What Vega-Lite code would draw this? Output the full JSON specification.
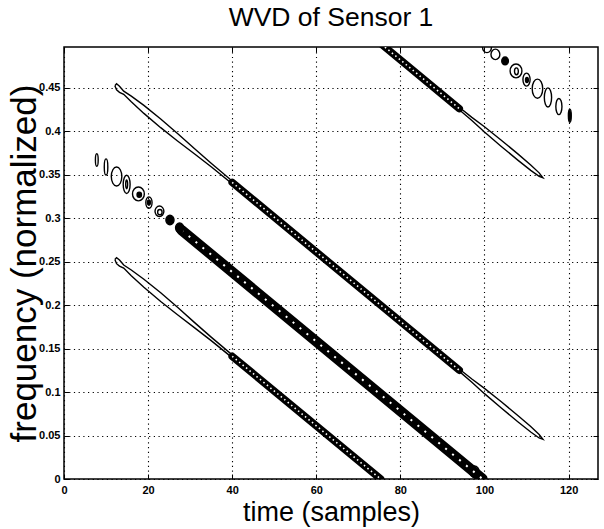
{
  "$schema": "https://vega.github.io/schema/vega-lite/v6.json",
  "width": 534,
  "height": 432,
  "autosize": {"type": "none"},
  "padding": {"left": 64, "top": 47, "right": 6, "bottom": 50},
  "background": "white",
  "title": {"text": "WVD of Sensor 1", "font": "Liberation Sans", "fontSize": 26.5, "fontWeight": "normal", "color": "black", "anchor": "middle", "frame": "group", "baseline": "alphabetic", "offset": 15, "dy": 23},
  "config": {"view": {"stroke": "black", "strokeWidth": 1.5}},
  "datasets": {
    "contours": [
      {"seg": "A1", "kind": "outline", "i": 0, "t": 12.1, "f": 0.4525},
      {"seg": "A1", "kind": "outline", "i": 1, "t": 12.5, "f": 0.4547},
      {"seg": "A1", "kind": "outline", "i": 2, "t": 13.2, "f": 0.4519},
      {"seg": "A1", "kind": "outline", "i": 3, "t": 14.2, "f": 0.4462},
      {"seg": "A1", "kind": "outline", "i": 4, "t": 16, "f": 0.4405},
      {"seg": "A1", "kind": "outline", "i": 5, "t": 19, "f": 0.4298},
      {"seg": "A1", "kind": "outline", "i": 6, "t": 23, "f": 0.4142},
      {"seg": "A1", "kind": "outline", "i": 7, "t": 27, "f": 0.3975},
      {"seg": "A1", "kind": "outline", "i": 8, "t": 31, "f": 0.3802},
      {"seg": "A1", "kind": "outline", "i": 9, "t": 35, "f": 0.3632},
      {"seg": "A1", "kind": "outline", "i": 10, "t": 40, "f": 0.3428},
      {"seg": "A1", "kind": "outline", "i": 11, "t": 40, "f": 0.3396},
      {"seg": "A1", "kind": "outline", "i": 12, "t": 35, "f": 0.3592},
      {"seg": "A1", "kind": "outline", "i": 13, "t": 31, "f": 0.3742},
      {"seg": "A1", "kind": "outline", "i": 14, "t": 27, "f": 0.3889},
      {"seg": "A1", "kind": "outline", "i": 15, "t": 23, "f": 0.4042},
      {"seg": "A1", "kind": "outline", "i": 16, "t": 19, "f": 0.4206},
      {"seg": "A1", "kind": "outline", "i": 17, "t": 16, "f": 0.4339},
      {"seg": "A1", "kind": "outline", "i": 18, "t": 14.2, "f": 0.4426},
      {"seg": "A1", "kind": "outline", "i": 19, "t": 13.2, "f": 0.4449},
      {"seg": "A1", "kind": "outline", "i": 20, "t": 12.5, "f": 0.4477},
      {"seg": "A1", "kind": "outline", "i": 21, "t": 12.1, "f": 0.4525},
      {"seg": "C1", "kind": "outline", "i": 0, "t": 12.1, "f": 0.2525},
      {"seg": "C1", "kind": "outline", "i": 1, "t": 12.5, "f": 0.2547},
      {"seg": "C1", "kind": "outline", "i": 2, "t": 13.2, "f": 0.2519},
      {"seg": "C1", "kind": "outline", "i": 3, "t": 14.2, "f": 0.2462},
      {"seg": "C1", "kind": "outline", "i": 4, "t": 16, "f": 0.2405},
      {"seg": "C1", "kind": "outline", "i": 5, "t": 19, "f": 0.2298},
      {"seg": "C1", "kind": "outline", "i": 6, "t": 23, "f": 0.2142},
      {"seg": "C1", "kind": "outline", "i": 7, "t": 27, "f": 0.1975},
      {"seg": "C1", "kind": "outline", "i": 8, "t": 31, "f": 0.1802},
      {"seg": "C1", "kind": "outline", "i": 9, "t": 35, "f": 0.1632},
      {"seg": "C1", "kind": "outline", "i": 10, "t": 40, "f": 0.1428},
      {"seg": "C1", "kind": "outline", "i": 11, "t": 40, "f": 0.1396},
      {"seg": "C1", "kind": "outline", "i": 12, "t": 35, "f": 0.1592},
      {"seg": "C1", "kind": "outline", "i": 13, "t": 31, "f": 0.1742},
      {"seg": "C1", "kind": "outline", "i": 14, "t": 27, "f": 0.1889},
      {"seg": "C1", "kind": "outline", "i": 15, "t": 23, "f": 0.2042},
      {"seg": "C1", "kind": "outline", "i": 16, "t": 19, "f": 0.2206},
      {"seg": "C1", "kind": "outline", "i": 17, "t": 16, "f": 0.2339},
      {"seg": "C1", "kind": "outline", "i": 18, "t": 14.2, "f": 0.2426},
      {"seg": "C1", "kind": "outline", "i": 19, "t": 13.2, "f": 0.2449},
      {"seg": "C1", "kind": "outline", "i": 20, "t": 12.5, "f": 0.2477},
      {"seg": "C1", "kind": "outline", "i": 21, "t": 12.1, "f": 0.2525},
      {"seg": "A3", "kind": "outline", "i": 0, "t": 94, "f": 0.1266},
      {"seg": "A3", "kind": "outline", "i": 1, "t": 97, "f": 0.115},
      {"seg": "A3", "kind": "outline", "i": 2, "t": 100, "f": 0.1042},
      {"seg": "A3", "kind": "outline", "i": 3, "t": 104, "f": 0.0888},
      {"seg": "A3", "kind": "outline", "i": 4, "t": 108, "f": 0.0728},
      {"seg": "A3", "kind": "outline", "i": 5, "t": 111, "f": 0.0603},
      {"seg": "A3", "kind": "outline", "i": 6, "t": 113, "f": 0.0512},
      {"seg": "A3", "kind": "outline", "i": 7, "t": 113.9, "f": 0.0456},
      {"seg": "A3", "kind": "outline", "i": 8, "t": 113, "f": 0.0472},
      {"seg": "A3", "kind": "outline", "i": 9, "t": 111, "f": 0.0541},
      {"seg": "A3", "kind": "outline", "i": 10, "t": 108, "f": 0.0656},
      {"seg": "A3", "kind": "outline", "i": 11, "t": 104, "f": 0.0816},
      {"seg": "A3", "kind": "outline", "i": 12, "t": 100, "f": 0.0982},
      {"seg": "A3", "kind": "outline", "i": 13, "t": 97, "f": 0.1114},
      {"seg": "A3", "kind": "outline", "i": 14, "t": 94, "f": 0.1238},
      {"seg": "A3", "kind": "outline", "i": 15, "t": 94, "f": 0.1266},
      {"seg": "B3", "kind": "outline", "i": 0, "t": 94, "f": 0.4276},
      {"seg": "B3", "kind": "outline", "i": 1, "t": 97, "f": 0.416},
      {"seg": "B3", "kind": "outline", "i": 2, "t": 100, "f": 0.4052},
      {"seg": "B3", "kind": "outline", "i": 3, "t": 104, "f": 0.3898},
      {"seg": "B3", "kind": "outline", "i": 4, "t": 108, "f": 0.3738},
      {"seg": "B3", "kind": "outline", "i": 5, "t": 111, "f": 0.3613},
      {"seg": "B3", "kind": "outline", "i": 6, "t": 113, "f": 0.3522},
      {"seg": "B3", "kind": "outline", "i": 7, "t": 113.9, "f": 0.3466},
      {"seg": "B3", "kind": "outline", "i": 8, "t": 113, "f": 0.3482},
      {"seg": "B3", "kind": "outline", "i": 9, "t": 111, "f": 0.3551},
      {"seg": "B3", "kind": "outline", "i": 10, "t": 108, "f": 0.3666},
      {"seg": "B3", "kind": "outline", "i": 11, "t": 104, "f": 0.3826},
      {"seg": "B3", "kind": "outline", "i": 12, "t": 100, "f": 0.3992},
      {"seg": "B3", "kind": "outline", "i": 13, "t": 97, "f": 0.4124},
      {"seg": "B3", "kind": "outline", "i": 14, "t": 94, "f": 0.4248},
      {"seg": "B3", "kind": "outline", "i": 15, "t": 94, "f": 0.4276},
      {"seg": "A2", "kind": "ridge", "i": 0, "t": 40, "f": 0.3412},
      {"seg": "A2", "kind": "ridge", "i": 1, "t": 94, "f": 0.1252},
      {"seg": "C2", "kind": "ridge", "i": 0, "t": 40, "f": 0.1412},
      {"seg": "C2", "kind": "ridge", "i": 1, "t": 75.3, "f": 0.0},
      {"seg": "B2", "kind": "ridge", "i": 0, "t": 75.5, "f": 0.5002},
      {"seg": "B2", "kind": "ridge", "i": 1, "t": 94, "f": 0.4262},
      {"seg": "D2", "kind": "band", "i": 0, "t": 28, "f": 0.2862},
      {"seg": "D2", "kind": "band", "i": 1, "t": 99.5, "f": 0.0002}
    ],
    "beads": [
      {"t": 7.8, "f": 0.367, "span": 0.0145, "form": "narrow", "solid": "n"},
      {"t": 10.0, "f": 0.359, "span": 0.0185, "form": "narrow", "solid": "n"},
      {"t": 12.5, "f": 0.348, "span": 0.022, "form": "oval", "solid": "n"},
      {"t": 14.9, "f": 0.339, "span": 0.021, "form": "slim", "solid": "n"},
      {"t": 14.9, "f": 0.339, "span": 0.01, "form": "narrow", "solid": "n"},
      {"t": 17.7, "f": 0.328, "span": 0.016, "form": "round", "solid": "n"},
      {"t": 17.9, "f": 0.327, "span": 0.006, "form": "round", "solid": "y"},
      {"t": 20.2, "f": 0.318, "span": 0.013, "form": "oval", "solid": "n"},
      {"t": 20.2, "f": 0.318, "span": 0.006, "form": "oval", "solid": "y"},
      {"t": 22.7, "f": 0.308, "span": 0.012, "form": "round", "solid": "n"},
      {"t": 22.8, "f": 0.307, "span": 0.006, "form": "round", "solid": "n"},
      {"t": 25.2, "f": 0.298, "span": 0.011, "form": "round", "solid": "y"},
      {"t": 27.5, "f": 0.289, "span": 0.011, "form": "round", "solid": "y"},
      {"t": 97.6, "f": 0.0085, "span": 0.013, "form": "round", "solid": "n"},
      {"t": 100.6, "f": 0.4965, "span": 0.012, "form": "round", "solid": "n"},
      {"t": 102.6, "f": 0.4885, "span": 0.012, "form": "round", "solid": "n"},
      {"t": 104.9, "f": 0.481, "span": 0.009, "form": "round", "solid": "y"},
      {"t": 107.5, "f": 0.4695, "span": 0.016, "form": "round", "solid": "n"},
      {"t": 107.6, "f": 0.469, "span": 0.008, "form": "oval", "solid": "n"},
      {"t": 110.0, "f": 0.4595, "span": 0.015, "form": "oval", "solid": "n"},
      {"t": 110.1, "f": 0.459, "span": 0.006, "form": "oval", "solid": "y"},
      {"t": 112.6, "f": 0.449, "span": 0.022, "form": "oval", "solid": "n"},
      {"t": 115.1, "f": 0.439, "span": 0.022, "form": "slim", "solid": "n"},
      {"t": 117.7, "f": 0.4285, "span": 0.0185, "form": "slim", "solid": "n"},
      {"t": 120.3, "f": 0.418, "span": 0.015, "form": "narrow", "solid": "y"}
    ]
  },
  "resolve": {"axis": {"x": "independent", "y": "independent"}},
  "layer": [
    {
      "data": {"name": "contours"},
      "transform": [{"filter": "datum.kind === 'outline'"}],
      "mark": {"type": "line", "stroke": "black", "strokeWidth": 1.4, "clip": true},
      "encoding": {
        "x": {"field": "t", "type": "quantitative", "scale": {"domain": [0, 127], "nice": false, "zero": false},
          "axis": {"orient": "bottom", "values": [0, 20, 40, 60, 80, 100, 120], "grid": true, "gridDash": [1.2, 3.5], "gridColor": "black", "gridOpacity": 1, "gridWidth": 1.1, "domain": false, "tickSize": -5, "tickColor": "black", "tickWidth": 1, "labelPadding": 10, "labelFont": "Liberation Sans", "labelFontWeight": "bold", "labelFontSize": 11, "labelColor": "black", "labelFlush": false, "labelOverlap": false, "title": "time (samples)", "titleFont": "Liberation Sans", "titleFontSize": 27, "titleFontWeight": "normal", "titleColor": "black", "titlePadding": 4}},
        "y": {"field": "f", "type": "quantitative", "scale": {"domain": [0, 0.497], "nice": false, "zero": false},
          "axis": {"orient": "left", "values": [0, 0.05, 0.1, 0.15, 0.2, 0.25, 0.3, 0.35, 0.4, 0.45], "format": "~g", "grid": true, "gridDash": [1.2, 3.5], "gridColor": "black", "gridOpacity": 1, "gridWidth": 1.1, "domain": false, "tickSize": -5, "tickColor": "black", "tickWidth": 1, "labelPadding": 9, "labelFont": "Liberation Sans", "labelFontWeight": "bold", "labelFontSize": 11, "labelColor": "black", "labelFlush": false, "labelOverlap": false, "title": "frequency (normalized)", "titleFont": "Liberation Sans", "titleFontSize": 35, "titleFontWeight": "normal", "titleColor": "black", "titlePadding": -4}},
        "detail": {"field": "seg", "type": "nominal"},
        "order": {"field": "i", "type": "quantitative"}
      }
    },
    {
      "data": {"name": "contours"},
      "transform": [{"filter": "datum.kind === 'ridge'"}],
      "mark": {"type": "line", "stroke": "black", "strokeWidth": 7.5, "strokeCap": "round", "clip": true},
      "encoding": {
        "x": {"field": "t", "type": "quantitative", "scale": {"domain": [0, 127], "nice": false, "zero": false}, "axis": null},
        "y": {"field": "f", "type": "quantitative", "scale": {"domain": [0, 0.497], "nice": false, "zero": false}, "axis": null},
        "detail": {"field": "seg", "type": "nominal"},
        "order": {"field": "i", "type": "quantitative"}
      }
    },
    {
      "data": {"name": "contours"},
      "transform": [{"filter": "datum.kind === 'ridge'"}],
      "mark": {"type": "line", "stroke": "white", "strokeWidth": 1.6, "strokeDash": [1.5, 3], "clip": true},
      "encoding": {
        "x": {"field": "t", "type": "quantitative", "scale": {"domain": [0, 127], "nice": false, "zero": false}, "axis": null},
        "y": {"field": "f", "type": "quantitative", "scale": {"domain": [0, 0.497], "nice": false, "zero": false}, "axis": null},
        "detail": {"field": "seg", "type": "nominal"},
        "order": {"field": "i", "type": "quantitative"}
      }
    },
    {
      "data": {"name": "contours"},
      "transform": [{"filter": "datum.kind === 'band'"}],
      "mark": {"type": "line", "stroke": "black", "strokeWidth": 10.5, "strokeCap": "round", "clip": true},
      "encoding": {
        "x": {"field": "t", "type": "quantitative", "scale": {"domain": [0, 127], "nice": false, "zero": false}, "axis": null},
        "y": {"field": "f", "type": "quantitative", "scale": {"domain": [0, 0.497], "nice": false, "zero": false}, "axis": null},
        "detail": {"field": "seg", "type": "nominal"},
        "order": {"field": "i", "type": "quantitative"}
      }
    },
    {
      "data": {"name": "contours"},
      "transform": [{"filter": "datum.kind === 'band'"}],
      "mark": {"type": "line", "stroke": "white", "strokeWidth": 2, "strokeDash": [2, 7], "clip": true},
      "encoding": {
        "x": {"field": "t", "type": "quantitative", "scale": {"domain": [0, 127], "nice": false, "zero": false}, "axis": null},
        "y": {"field": "f", "type": "quantitative", "scale": {"domain": [0, 0.497], "nice": false, "zero": false}, "axis": null},
        "detail": {"field": "seg", "type": "nominal"},
        "order": {"field": "i", "type": "quantitative"}
      }
    },
    {
      "data": {"name": "beads"},
      "mark": {"type": "point", "stroke": "black", "strokeWidth": 1.4, "opacity": 1, "clip": true},
      "encoding": {
        "x": {"field": "t", "type": "quantitative", "scale": {"domain": [0, 127], "nice": false, "zero": false}, "axis": null},
        "y": {"field": "f", "type": "quantitative", "scale": {"domain": [0, 0.497], "nice": false, "zero": false}, "axis": null},
        "shape": {"field": "form", "type": "nominal", "legend": null, "scale": {"domain": ["narrow", "slim", "oval", "round"], "range": ["M0,-1A0.22,1,0,1,1,0,1A0.22,1,0,1,1,0,-1Z", "M0,-1A0.38,1,0,1,1,0,1A0.38,1,0,1,1,0,-1Z", "M0,-1A0.55,1,0,1,1,0,1A0.55,1,0,1,1,0,-1Z", "M0,-1A0.85,1,0,1,1,0,1A0.85,1,0,1,1,0,-1Z"]}},
        "size": {"field": "span", "type": "quantitative", "legend": null, "scale": {"type": "pow", "exponent": 2, "domain": [0, 0.03], "range": [0, 680]}},
        "fill": {"field": "solid", "type": "nominal", "legend": null, "scale": {"domain": ["y", "n"], "range": ["black", "transparent"]}}
      }
    },
    {
      "data": {"name": "beads"},
      "mark": {"type": "point", "opacity": 0},
      "encoding": {
        "x": {"field": "t", "type": "quantitative", "scale": {"domain": [0, 127], "nice": false, "zero": false},
          "axis": {"orient": "top", "values": [0, 20, 40, 60, 80, 100, 120], "labels": false, "grid": false, "domain": false, "tickSize": -5, "tickColor": "black", "title": null}},
        "y": {"field": "f", "type": "quantitative", "scale": {"domain": [0, 0.497], "nice": false, "zero": false},
          "axis": {"orient": "right", "values": [0, 0.05, 0.1, 0.15, 0.2, 0.25, 0.3, 0.35, 0.4, 0.45], "labels": false, "grid": false, "domain": false, "tickSize": -5, "tickColor": "black", "title": null}}
      }
    }
  ]
}
